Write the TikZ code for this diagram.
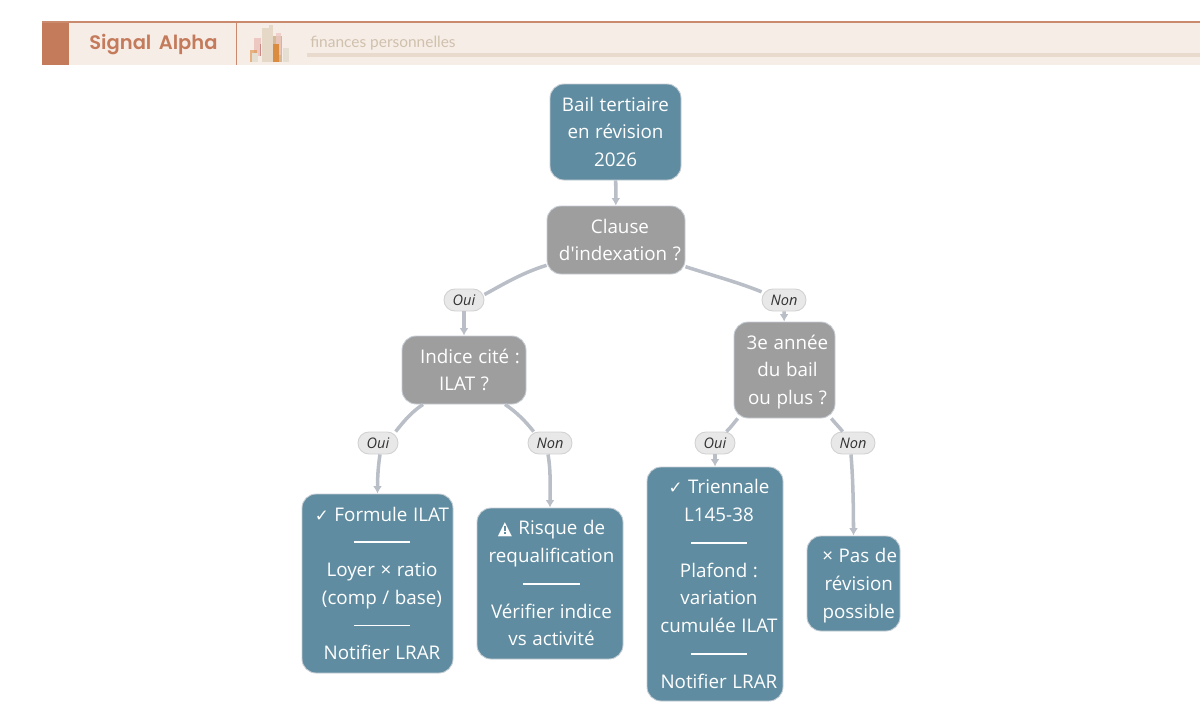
\documentclass[tikz,border=0pt]{standalone}
\usepackage{fontspec}
\usetikzlibrary{arrows.meta}
\setmainfont{Open Sans}[Ligatures=TeXOff, WordSpace=1.15]
\newfontfamily\brandfont{Poppins SemiBold}[WordSpace=1.6]
\newfontfamily\taglinefont{Lato}
\newfontfamily\symbolfont{DejaVu Sans}
\definecolor{tealfill}{HTML}{5F8CA0}
\definecolor{greyfill}{HTML}{9E9E9E}
\definecolor{edgegrey}{HTML}{B9BEC7}
\definecolor{boxborder}{HTML}{C6CDD4}
\definecolor{bandfill}{HTML}{F7EDE7}
\definecolor{bandline}{HTML}{C98A6E}
\definecolor{brand}{HTML}{C47B5C}
\definecolor{tagline}{HTML}{CFC1AC}
\definecolor{tagbar}{HTML}{E8DACC}
\definecolor{barpink}{HTML}{EDC8C2}
\definecolor{barred}{HTML}{C98A86}
\definecolor{barcream}{HTML}{E5D8C6}
\definecolor{bartan}{HTML}{D2B48E}
\definecolor{barorange}{HTML}{DB8C3F}
\definecolor{barpale}{HTML}{E4DFD2}
\newcommand{\boxlines}[2]{\kern#1pt\raisebox{-0.8pt}[\height][\depth]{\begin{tabular}{@{}c@{}}#2\end{tabular}}}
\newcommand{\sepline}{\rule[3.2pt]{32pt}{1.1pt}}
\newcommand{\cmark}{{\symbolfont\fontsize{9.5}{10}\selectfont ✓}\ }
\newcommand{\warnmark}{\rlap{\symbolfont\fontsize{10.5}{10}\selectfont ▲}%
    \kern3.6pt\textcolor{tealfill}{\rlap{\rule[2pt]{1.1pt}{3pt}}\rule[0.7pt]{1.1pt}{0.9pt}}\kern3.8pt\ }
\tikzset{
    boxsize/.style 2 args={minimum width=#1*0.02cm, minimum height=#2*0.02cm},
    basebox/.style={shape=rectangle, draw=boxborder, line width=0.5pt, rounded corners=8pt, inner sep=0pt,
        text=white, font=\fontsize{10.7}{15.8}\selectfont},
    tealbox/.style={basebox, fill=tealfill},
    greybox/.style={basebox, fill=greyfill},
    answer/.style={shape=rectangle, draw=black!18, line width=0.5pt, fill=black!9, rounded corners=6.2pt,
        inner sep=0pt, minimum height=22*0.02cm, text=black!80, font=\fontsize{8.3}{10}\selectfont\itshape},
    edge/.style={draw=edgegrey, line width=2pt},
    arrowedge/.style={edge, -{Latex[length=4.2pt,width=5pt]}},
}
\begin{document}
\begin{tikzpicture}[x=0.02cm, y=-0.02cm]
    \useasboundingbox (0, 0) rectangle (1200, 721);

    % header band
    \fill[bandfill] (42, 22) rectangle (1200, 65);
    \fill[brand] (42, 22) rectangle (69, 65);
    \draw[bandline, line width=0.6pt] (42, 22) -- (1200, 22);
    \draw[bandline, line width=0.6pt] (236.5, 22) -- (236.5, 65);
    \fill[tagbar] (307, 53) rectangle (1200, 57);
    \node[anchor=west, inner sep=0pt, text=brand, font=\brandfont\fontsize{11.1}{13}\selectfont] (brandname) at (89, 45) {Signal Alpha};
    \node[anchor=west, inner sep=0pt, text=tagline, font=\taglinefont\fontsize{8.8}{11}\selectfont] (taglinetext) at (310, 43) {finances personnelles};

    % little bars of the logo
    \foreach \xa/\ya/\xb/\yb/\barcolor/\baralpha in {
        254/38/261/56/barpink/1, 259.5/44/261/56/barred/1, 250/50/257/62/barorange/0.6, 252/53/258/62/barpale/1,
        262/28/269/62/barcream/1, 269/25/273/62/barcream/1, 273/36/282/62/bartan/0.9,
        276/33/281/55/barpink/0.8, 273/44/279/62/barorange/1, 283/48/289/62/barpale/1} {
        \fill[\barcolor, opacity=\baralpha] (\xa, \ya) rectangle (\xb, \yb);
    }

    % boxes
    \node[tealbox, boxsize={131}{96}] (start) at (615.5, 132) {\boxlines{0}{Bail tertiaire\\en révision\\2026}};
    \node[greybox, boxsize={138}{68}] (clause) at (616, 240) {\boxlines{4.5}{Clause\\d'indexation ?}};
    \node[greybox, boxsize={124}{68}] (indice) at (464, 370) {\boxlines{0}{\kern6.8pt Indice cité :\\ILAT ?}};
    \node[greybox, boxsize={101}{96}] (annee) at (784.5, 370) {\boxlines{3.4}{3e année\\du bail\\ou plus ?}};

    \node[tealbox, boxsize={151}{179}] (formule) at (377.5, 583.5)
        {\boxlines{5.1}{\cmark Formule ILAT\\\sepline\\Loyer × ratio\\(comp / base)\\\sepline\\Notifier LRAR}};
    \node[tealbox, boxsize={146}{151}] (risque) at (550, 583.5)
        {\boxlines{1.7}{\warnmark Risque de\\requalification\\\sepline\\Vérifier indice\\vs activité}};
    \node[tealbox, boxsize={136}{234}] (triennale) at (715, 584)
        {\boxlines{4.5}{\cmark Triennale\\L145-38\\\sepline\\Plafond :\\variation\\cumulée ILAT\\\sepline\\Notifier LRAR}};
    \node[tealbox, boxsize={93}{95}] (pasrevision) at (853.5, 583.5)
        {\boxlines{6}{\kern1pt ×\ Pas de\\révision\\possible}};

    % yes / no labels
    \node[answer, minimum width=40*0.02cm] (ouiclause) at (464, 300) {Oui};
    \node[answer, minimum width=44*0.02cm] (nonclause) at (784, 300) {Non};
    \node[answer, minimum width=40*0.02cm] (ouiindice) at (378, 443) {Oui};
    \node[answer, minimum width=44*0.02cm] (nonindice) at (550, 443) {Non};
    \node[answer, minimum width=40*0.02cm] (ouiannee) at (715, 443) {Oui};
    \node[answer, minimum width=44*0.02cm] (nonannee) at (853, 443) {Non};

    % connectors
    \draw[arrowedge] (start) -- (clause);

    \draw[edge] (clause.200) .. controls +(-26, 8) and +(15, -8) .. (ouiclause.15);
    \draw[arrowedge] (ouiclause.south) .. controls +(0, 8) and +(0, -8) .. (indice.north);
    \draw[edge] (clause.339) .. controls +(28, 9) and +(-22, -9) .. (nonclause.160);
    \draw[arrowedge] (nonclause) -- (annee);

    \draw[edge] (indice.220) .. controls +(-12, 8) and +(8, -10) .. (ouiindice.33);
    \draw[arrowedge] (ouiindice.280) .. controls +(-2, 12) and +(0, -14) .. (formule.north);
    \draw[edge] (indice.320) .. controls +(12, 8) and +(-8, -10) .. (nonindice.145);
    \draw[arrowedge] (nonindice.260) .. controls +(3, 16) and +(0, -18) .. (risque.north);

    \draw[edge] (annee.226) .. controls +(-5, 6) and +(5, -5) .. (ouiannee.45);
    \draw[arrowedge] (ouiannee) -- (triennale);
    \draw[edge] (annee.314) .. controls +(5, 6) and +(-4, -5) .. (nonannee.132);
    \draw[arrowedge] (nonannee.260) .. controls +(2, 24) and +(0, -28) .. (pasrevision.north);
\end{tikzpicture}
\end{document}
